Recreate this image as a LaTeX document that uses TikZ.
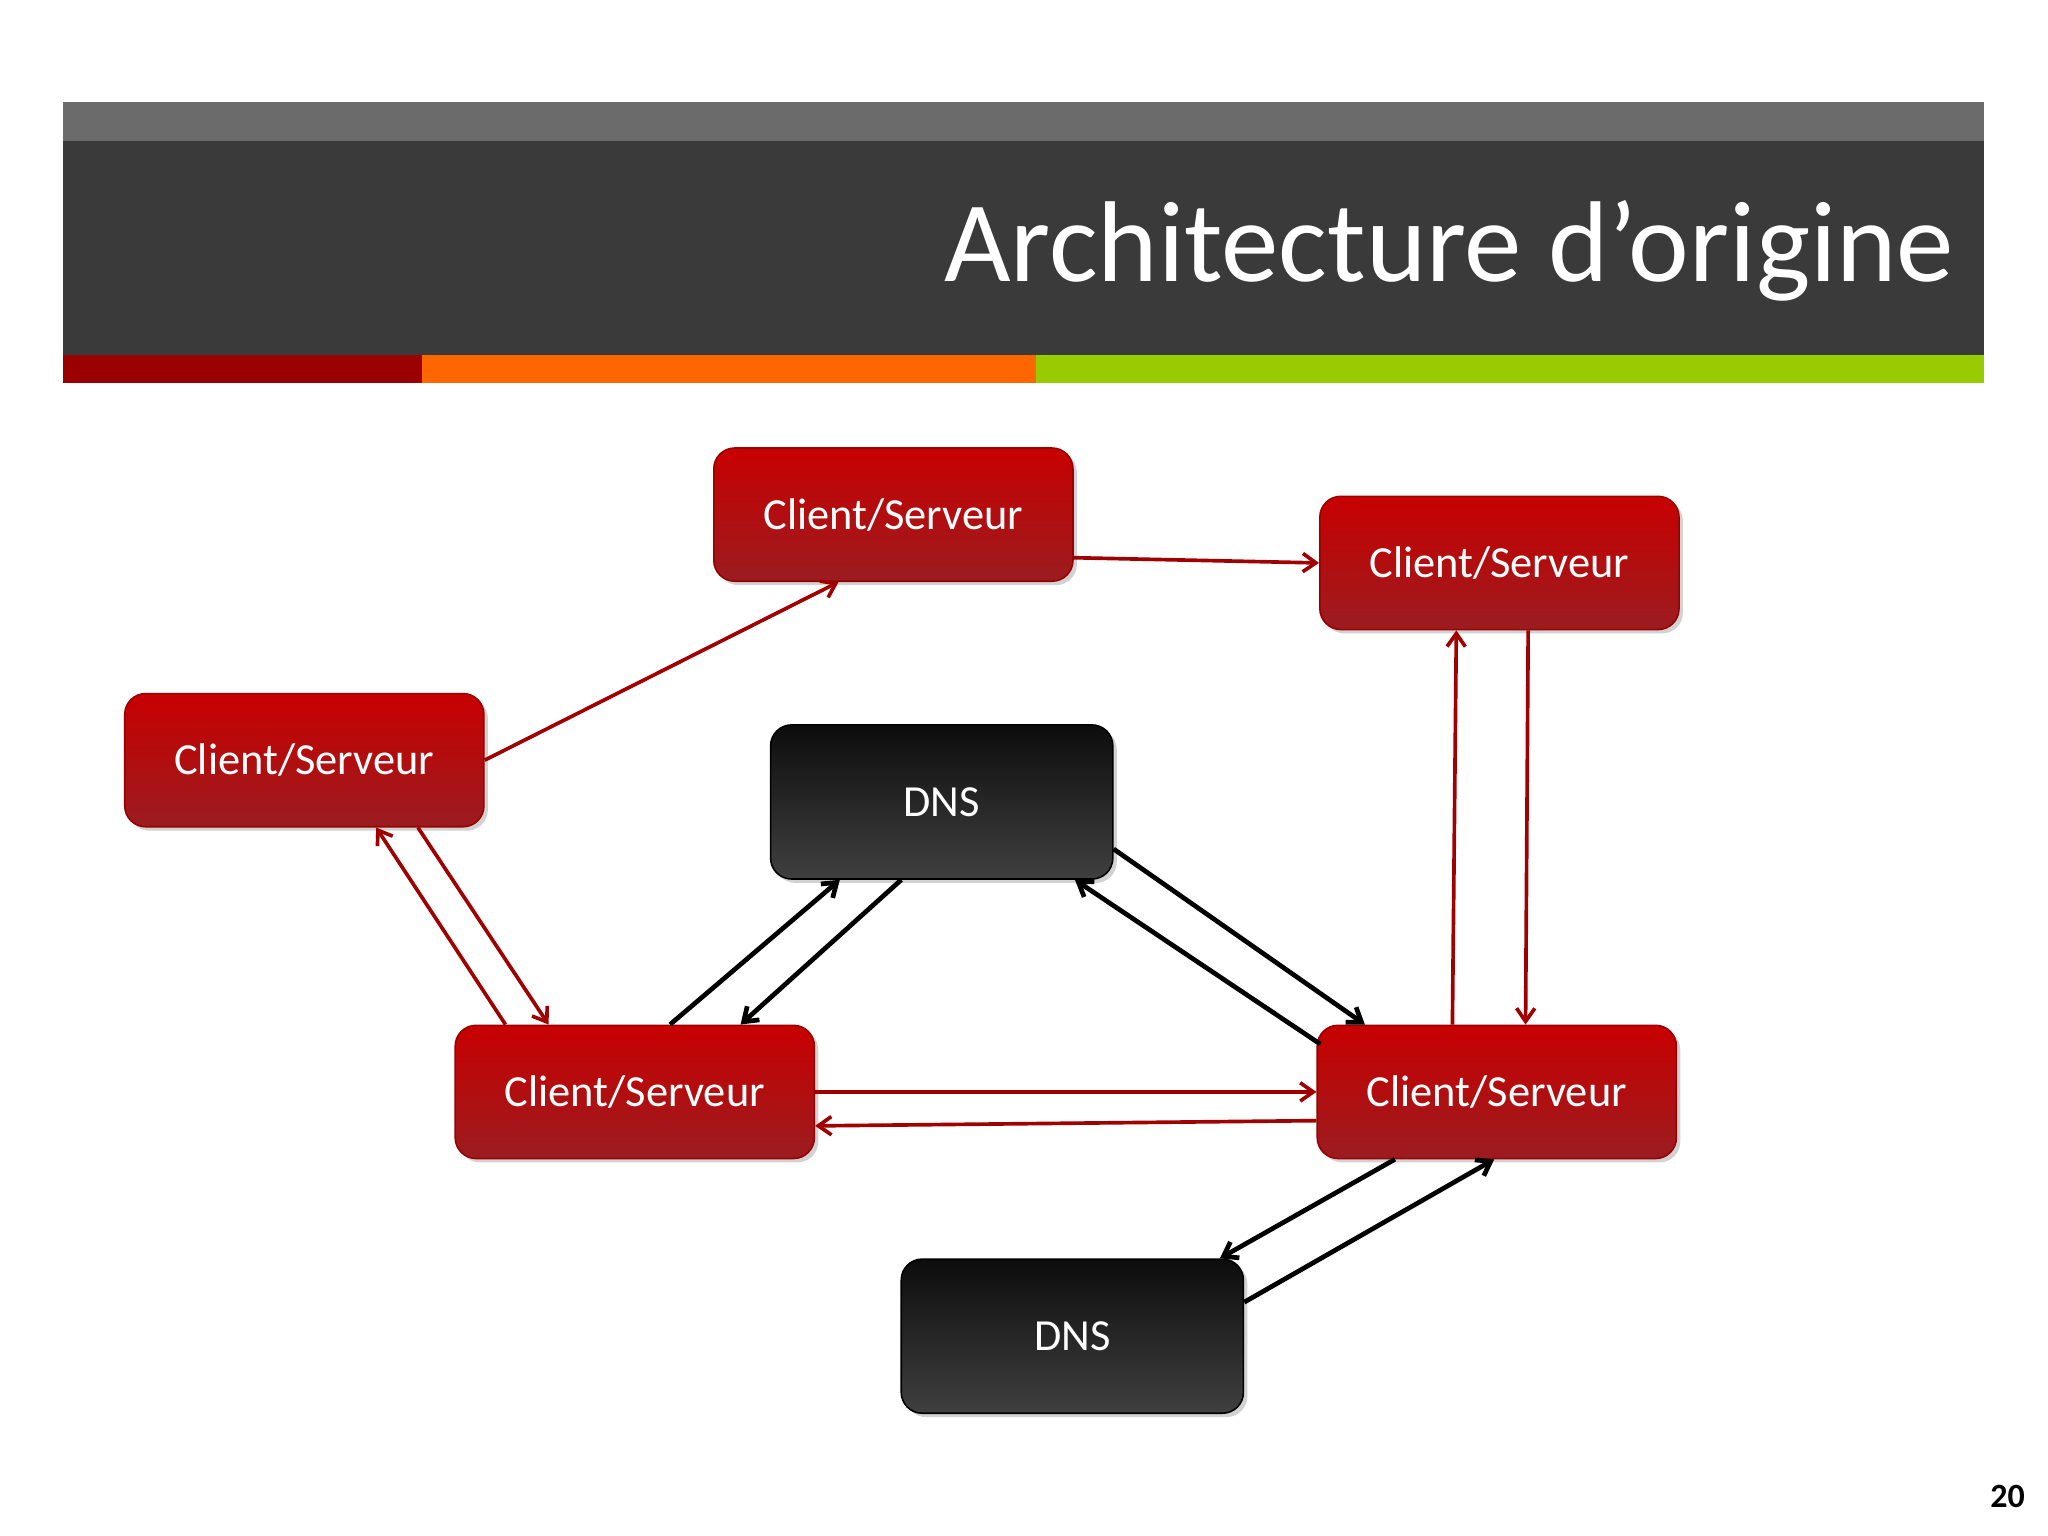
\documentclass[tikz,border=0pt]{standalone}
\usepackage{fontspec}
\setmainfont{Carlito}
\usetikzlibrary{arrows.meta,shadows}
\definecolor{hdrdark}{HTML}{3A3A3A}
\definecolor{hdrgrey}{HTML}{6B6B6B}
\definecolor{stripred}{HTML}{9B0000}
\definecolor{striporange}{HTML}{FF6600}
\definecolor{stripgreen}{HTML}{99CC00}
\definecolor{arrred}{HTML}{A00000}
\tikzset{
  box/.style={rounded corners=8pt, minimum width=137.5pt, minimum height=51pt,
    text=white, font=\fontsize{17}{20}\selectfont, draw=#1!60!black, line width=0.6pt,
    drop shadow={shadow xshift=1.5pt, shadow yshift=-1.5pt, opacity=0.35}},
  cs/.style={box=red, top color={rgb,255:red,200;green,0;blue,0}, bottom color={rgb,255:red,155;green,28;blue,32}},
  dns/.style={box=black, minimum width=131pt, minimum height=59pt, top color=black!95, bottom color=black!75},
  rl/.style={draw=arrred, line width=1.4pt, -{Straight Barb[length=5pt,width=7pt]}},
  bl/.style={draw=black, line width=1.8pt, -{Straight Barb[length=5pt,width=7pt]}},
}
\begin{document}
\begin{tikzpicture}[x=0.5pt,y=-0.5pt]
\useasboundingbox (0,0) rectangle (1568,1176);
\fill[white] (0,0) rectangle (1568,1176);
\fill[hdrgrey] (48,78) rectangle (1519,108);
\fill[hdrdark] (48,108) rectangle (1519,272);
\fill[stripred] (48,272) rectangle (323,293);
\fill[striporange] (323,272) rectangle (793,293);
\fill[stripgreen] (793,272) rectangle (1519,293);
\node[anchor=east, text=white, font=\fontsize{44}{50}\selectfont] (title) at (1503,192) {Architecture d’origine};
\node[anchor=center, font=\bfseries\fontsize{13}{15}\selectfont] (pg) at (1537,1146) {20};

\node[cs] (cs1) at (684,394) {Client/Serveur};
\node[cs] (cs2) at (1148,431) {Client/Serveur};
\node[cs] (cs3) at (233,582) {Client/Serveur};
\node[dns] (dns1) at (721,614) {DNS};
\node[cs] (cs4) at (486,836) {Client/Serveur};
\node[cs] (cs5) at (1146,836) {Client/Serveur};
\node[dns] (dns2) at (821,1023) {DNS};

\draw[rl] (cs3.east) -- ([xshift=-21pt]cs1.south);
\draw[rl] ([yshift=-16.5pt]cs1.east) -- (cs2.west);
\draw[rl] ([xshift=-17pt]cs5.north) -- ([xshift=-16.5pt]cs2.south);
\draw[rl] ([xshift=11pt]cs2.south) -- ([xshift=11pt]cs5.north);
\draw[rl] ([xshift=-49.5pt]cs4.north) -- ([xshift=27.5pt]cs3.south);
\draw[rl] ([xshift=43.5pt]cs3.south) -- ([xshift=-33pt]cs4.north);
\draw[bl] ([xshift=13.5pt]cs4.north) -- ([xshift=-39pt]dns1.south);
\draw[bl] ([xshift=-15.5pt]dns1.south) -- ([xshift=40.5pt]cs4.north);
\draw[bl] ([yshift=-18pt]dns1.east) -- ([xshift=-50.5pt]cs5.north);
\draw[bl] ([xshift=1.5pt,yshift=-7.5pt]cs5.north west) -- ([xshift=51pt]dns1.south);
\draw[rl] (cs4.east) -- (cs5.west);
\draw[rl] ([yshift=-11pt]cs5.west) -- ([yshift=-13pt]cs4.east);
\draw[bl] ([xshift=-39pt]cs5.south) -- ([xshift=56.5pt]dns2.north);
\draw[bl] ([yshift=13pt]dns2.east) -- ([xshift=-1pt]cs5.south);
\end{tikzpicture}
\end{document}
